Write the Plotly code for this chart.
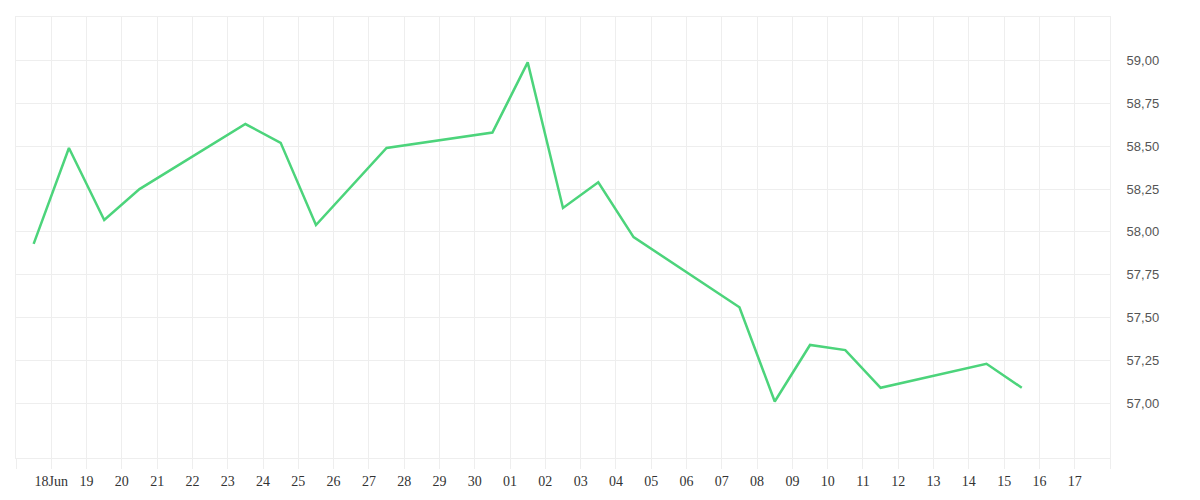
import pandas as pd
import plotly.graph_objects as go

# trading days (points sit at midday)
dates = ["2023-06-17", "2023-06-18", "2023-06-19", "2023-06-20", "2023-06-23",
         "2023-06-24", "2023-06-25", "2023-06-27", "2023-06-30", "2023-07-01",
         "2023-07-02", "2023-07-03", "2023-07-04", "2023-07-07", "2023-07-08",
         "2023-07-09", "2023-07-10", "2023-07-11", "2023-07-14", "2023-07-15"]
values = [57.93, 58.49, 58.07, 58.25, 58.63, 58.52, 58.04, 58.49, 58.58, 58.99,
          58.14, 58.29, 57.97, 57.56, 57.01, 57.34, 57.31, 57.09, 57.23, 57.09]

tick_days = pd.date_range("2023-06-17", "2023-07-18", freq="D")
tick_text = [""] + ["18Jun"] + [d.strftime("%d") for d in tick_days[2:-1]] + [""]
y_ticks = [57.00, 57.25, 57.50, 57.75, 58.00, 58.25, 58.50, 58.75, 59.00]

x = pd.to_datetime(dates) + pd.Timedelta(hours=12)

fig = go.Figure()
fig.add_trace(go.Scatter(
    x=x, y=values, mode="lines",
    line=dict(color="#4cd47b", width=2.5),
    hoverinfo="x+y"
))

grid = "#eeeeee"
fig.update_layout(
    width=1200, height=500,
    margin=dict(l=8, r=98, t=9, b=50),
    paper_bgcolor="white", plot_bgcolor="white",
    showlegend=False,
    separators=",.",
    xaxis=dict(
        type="date",
        range=[tick_days[0], tick_days[-1]],
        tickvals=tick_days, ticktext=tick_text,
        showgrid=True, gridcolor=grid, gridwidth=1,
        ticks="outside", ticklen=10, tickcolor=grid,
        showline=True, mirror=True, linecolor=grid,
        zeroline=False,
        tickfont=dict(family="Liberation Serif", size=14, color="#333333"),
    ),
    yaxis=dict(
        side="right",
        range=[56.68, 59.255],
        tickvals=y_ticks, tickformat=".2f",
        showgrid=True, gridcolor=grid, gridwidth=1,
        showline=True, mirror=True, linecolor=grid,
        zeroline=False,
        ticks="outside", ticklen=13, tickcolor="rgba(0,0,0,0)",
        tickfont=dict(family="Liberation Sans", size=13, color="#555555"),
    ),
)

fig.write_html("out.html")
